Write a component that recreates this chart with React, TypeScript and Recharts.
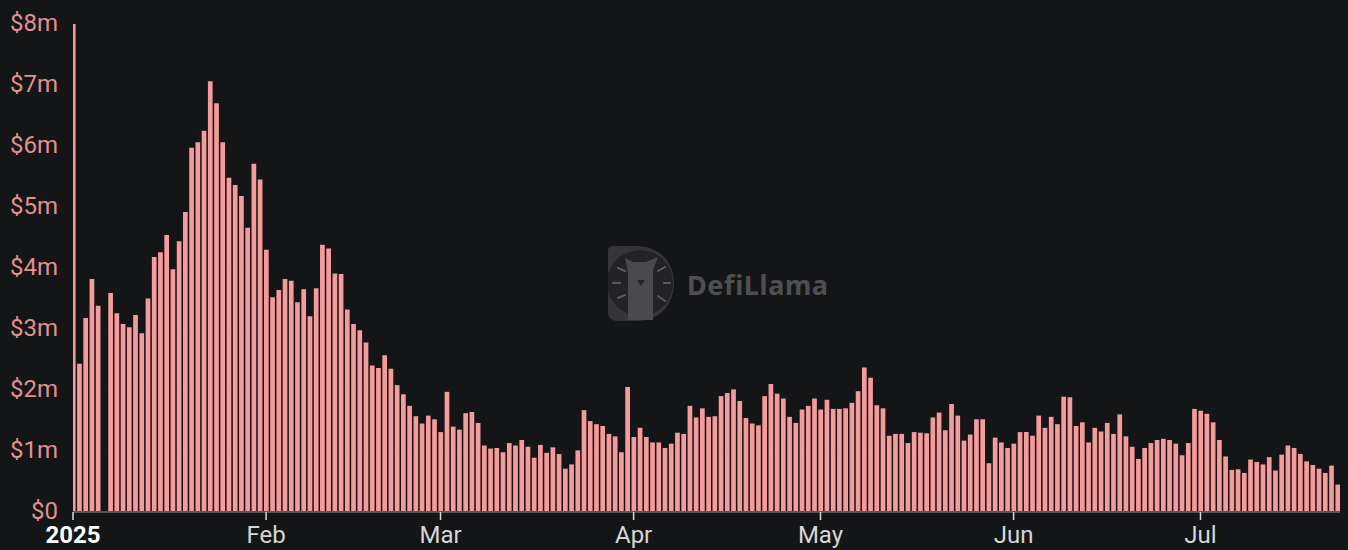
import { BarChart, Bar, XAxis, YAxis, CartesianGrid } from "recharts";

const DAY = 86400000;
const START = Date.UTC(2025, 0, 1);

// daily fees in $m, one entry per day from 1 Jan 2025
const dailyFees = [
  8.0, 2.43, 3.18, 3.82, 3.38, 0, 3.59, 3.26, 3.08, 3.03, 3.23, 2.93, 3.5, 4.18, 4.26, 4.54,
  3.98, 4.44, 4.92, 5.97, 6.06, 6.25, 7.06, 6.7, 6.06, 5.48, 5.36, 5.18, 4.66, 5.71, 5.45,
  4.3, 3.52, 3.64, 3.82, 3.79, 3.44, 3.65, 3.21, 3.67, 4.38, 4.32, 3.91, 3.9, 3.32, 3.08, 2.98,
  2.78, 2.4, 2.36, 2.57, 2.35, 2.08, 1.93, 1.74, 1.57, 1.45, 1.58, 1.52,
  1.31, 1.97, 1.4, 1.35, 1.62, 1.64, 1.46, 1.09, 1.04, 1.05, 0.98, 1.13, 1.09, 1.18, 1.07, 0.89,
  1.1, 0.97, 1.06, 0.95, 0.71, 0.78, 1.01, 1.67, 1.49, 1.44, 1.41, 1.28, 1.24, 0.98, 2.05,
  1.23, 1.38, 1.23, 1.14, 1.14, 1.05, 1.12, 1.3, 1.28, 1.74, 1.55, 1.7, 1.56, 1.57, 1.9, 1.95,
  2.01, 1.82, 1.54, 1.45, 1.42, 1.9, 2.1, 1.94, 1.86, 1.56, 1.46, 1.68, 1.74, 1.86,
  1.68, 1.84, 1.69, 1.69, 1.7, 1.79, 1.98, 2.37, 2.2, 1.75, 1.7, 1.25, 1.28, 1.28, 1.13, 1.31,
  1.3, 1.29, 1.55, 1.63, 1.34, 1.77, 1.58, 1.17, 1.27, 1.52, 1.52, 0.8, 1.22, 1.14, 1.05,
  1.12, 1.31, 1.31, 1.25, 1.58, 1.38, 1.56, 1.44, 1.89, 1.88, 1.41, 1.47, 1.14, 1.38, 1.32, 1.46,
  1.28, 1.6, 1.24, 1.07, 0.87, 1.05, 1.13, 1.18, 1.2, 1.18, 1.12, 0.93, 1.13, 1.69,
  1.66, 1.61, 1.47, 1.18, 0.91, 0.69, 0.7, 0.64, 0.86, 0.82, 0.78, 0.9, 0.68, 0.94, 1.09, 1.05,
  0.95, 0.83, 0.77, 0.71, 0.64, 0.76, 0.45,
];
const monthTicks = [0, 31, 59, 90, 120, 151, 181].map((d) => START + d * DAY);
const monthLabels = ["2025", "Feb", "Mar", "Apr", "May", "Jun", "Jul"];
const valueTicks = [0, 1, 2, 3, 4, 5, 6, 7, 8];

const chartData = dailyFees.map((v, i) => ({ date: START + i * DAY, fees: v }));

const FONT = "Roboto, 'Noto Sans', sans-serif";

function MonthTick({ x, y, payload }: any) {
  const i = monthTicks.indexOf(payload.value);
  return (
    <text x={x} y={y + 21} textAnchor="middle" fontFamily={FONT} fontSize={24}
      fontWeight={i === 0 ? 700 : 400} fill={i === 0 ? "#ffffff" : "#d6d6d6"}>
      {monthLabels[i]}
    </text>
  );
}

function Watermark() {
  const rays = ["M10 22 L17 25", "M5 37 L12 37", "M10 52 L17 49", "M50 25 L57 21", "M56 37 L62 37", "M50 50 L57 55"];
  return (
    <div style={{ position: "absolute", left: 608, top: 246, width: 230, height: 76, pointerEvents: "none" }}>
      <svg width={68} height={76}>
        <path d="M5 0 H28 C52 0 66 17 66 37 C66 58 52 75 28 75 H10 C3 75 0 71 0 66 V6 C0 2 1 0 5 0 Z" fill="#353537" />
        <circle cx={32} cy={37} r={33} fill="#232325" />
        <path d="M17 12 L25 16 H38 L50 11 L45 24 V74 H20 V26 Z" fill="#4a4a4c" />
        <path d="M29 34 H37 L33 40 Z" fill="#232325" />
        {rays.map((d) => <path key={d} d={d} stroke="#5c5c5e" strokeWidth={2} strokeLinecap="round" />)}
      </svg>
      <div style={{ position: "absolute", left: 79, top: 20, fontFamily: "'Noto Sans', sans-serif", fontSize: 27, fontWeight: 700, color: "#4f4f52", letterSpacing: 0.6 }}>
        DefiLlama
      </div>
    </div>
  );
}

export default function App() {
  return (
    <div style={{ position: "absolute", left: 0, top: 0, width: 1348, height: 550, background: "#141517", overflow: "hidden" }}>
      <BarChart width={1348} height={550} data={chartData} margin={{ top: 24, right: 8, bottom: 0, left: 0 }}>
        <CartesianGrid horizontal vertical={false} stroke="#17181a" />
        <XAxis
          dataKey="date"
          type="number"
          scale="linear"
          domain={[START, START + 203.4 * DAY]}
          allowDataOverflow
          ticks={monthTicks}
          interval={0}
          height={38}
          tick={<MonthTick />}
          tickSize={8}
          axisLine={{ stroke: "#5a5558", strokeWidth: 2 }}
          tickLine={{ stroke: "#d8d8d8", strokeWidth: 1.5 }}
        />
        <YAxis
          type="number"
          domain={[0, 8]}
          ticks={valueTicks}
          width={73}
          interval={0}
          axisLine={false}
          tickLine={false}
          tickMargin={9}
          dy={-2}
          tickFormatter={(v: number) => (v === 0 ? "$0" : `$${v}m`)}
          tick={{ fontFamily: FONT, fontSize: 24, fill: "#e0908f" }}
        />
        <Bar dataKey="fees" fill="#f59b9b" barSize={4.7} isAnimationActive={false} />
      </BarChart>
      <Watermark />
    </div>
  );
}
